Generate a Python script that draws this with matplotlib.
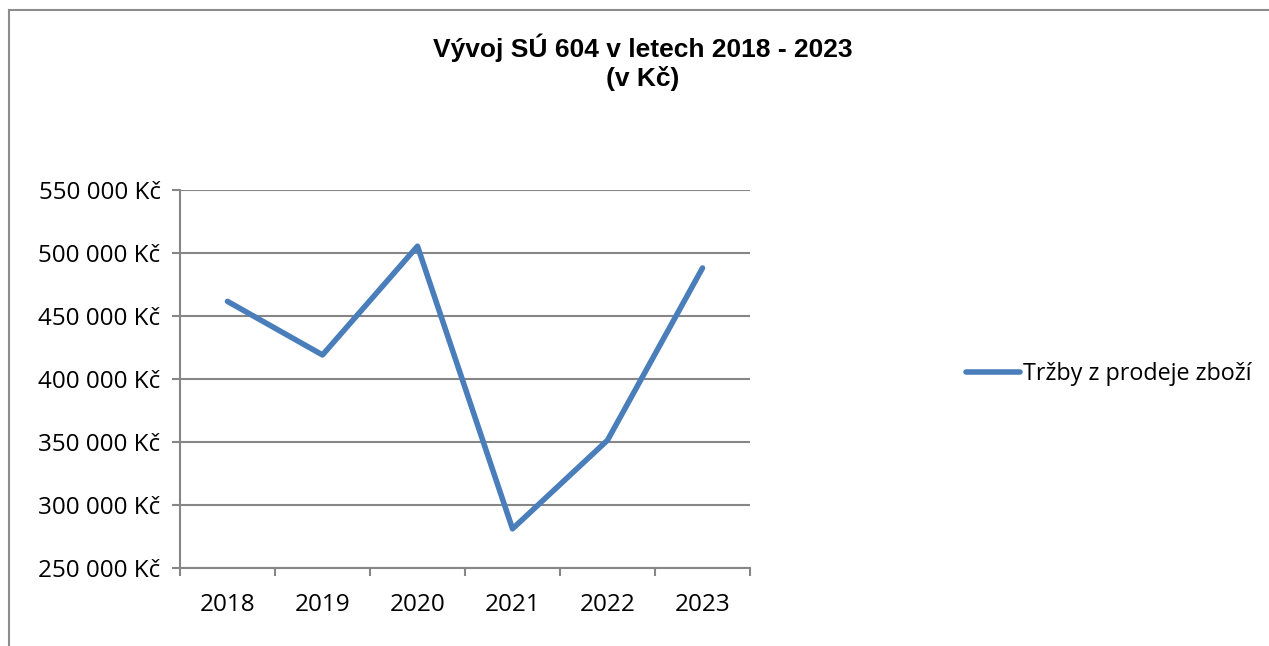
import matplotlib
matplotlib.use('Agg')
import matplotlib.pyplot as plt
from matplotlib.ticker import FuncFormatter, MultipleLocator
from matplotlib.lines import Line2D
import numpy as np

years = ['2018', '2019', '2020', '2021', '2022', '2023']
trzby = [461600, 419100, 505400, 281100, 351400, 488100]
series_name = 'Tržby z prodeje zboží'
title_text = 'Vývoj SÚ 604 v letech 2018 - 2023\n(v Kč)'

W, H = 1269, 646
fig = plt.figure(figsize=(W / 100, H / 100), dpi=100)
fig.patch.set_facecolor('white')

GRID = '#868686'
BLUE = '#4A7EBB'
TICKFONT = 'Open Sans'
TICKSIZE = 17.5

ax = fig.add_axes([180 / W, 1 - 568 / H, 570 / W, 378 / H])
x = np.arange(len(years))
ax.plot(x, trzby, color=BLUE, lw=4, solid_capstyle='round',
        solid_joinstyle='round', label=series_name, zorder=3)

ax.set_xlim(-0.5, len(years) - 0.5)
ax.set_ylim(250000, 550000)
ax.yaxis.set_major_locator(MultipleLocator(50000))
ax.yaxis.set_major_formatter(FuncFormatter(
    lambda v, p: f"{v:,.0f}".replace(',', ' ') + ' Kč'))
ax.yaxis.grid(True, color=GRID, lw=1.5)
ax.set_axisbelow(True)

for s in ['top', 'right']:
    ax.spines[s].set_visible(False)
for s in ['left', 'bottom']:
    ax.spines[s].set_color(GRID)
    ax.spines[s].set_linewidth(1.5)

ax.set_xticks(np.arange(-0.5, len(years)))
ax.set_xticklabels([])
ax.set_xticks(x, minor=True)
ax.set_xticklabels(years, minor=True)
ax.tick_params(axis='x', which='major', length=6, width=1.5,
               color=GRID, direction='out')
ax.tick_params(axis='x', which='minor', length=0, pad=18,
               labelsize=TICKSIZE)
ax.tick_params(axis='y', which='major', length=6, width=1.5,
               color=GRID, direction='out', pad=8, labelsize=TICKSIZE)
for lab in ax.get_xticklabels(minor=True) + ax.get_yticklabels():
    lab.set_fontfamily(TICKFONT)

fig.text(643 / W, 1 - 62 / H, title_text, ha='center', va='center',
         fontsize=19, fontweight='bold', family='Liberation Sans',
         linespacing=1.2)

leg = fig.legend(loc='center left', bbox_to_anchor=(966 / W, 1 - 374 / H),
                 frameon=False, borderpad=0, borderaxespad=0,
                 handlelength=2.3, handletextpad=0.15,
                 prop={'family': TICKFONT, 'size': 16.8})

fig.add_artist(Line2D([9 / W, 9 / W], [0, 1 - 10 / H], color='#8c8c8c', lw=1.5))
fig.add_artist(Line2D([9 / W, 1], [1 - 10 / H, 1 - 10 / H], color='#8c8c8c', lw=1.5))

fig.savefig('out.png', dpi=100)
